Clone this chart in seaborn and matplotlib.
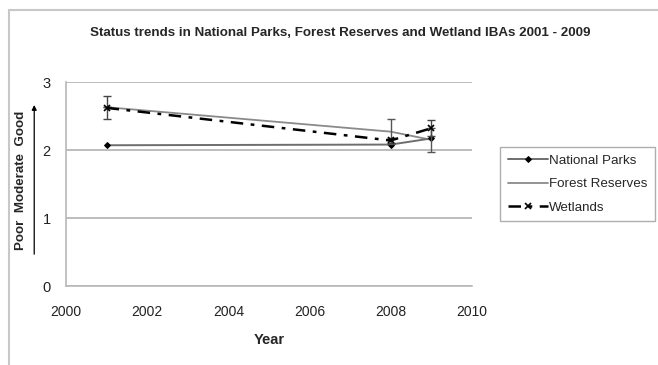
import matplotlib
matplotlib.use("Agg")
import matplotlib.pyplot as plt
import seaborn as sns
import pandas as pd

# Status scores (0-3 scale) per habitat group
years = [2001, 2008, 2009]
national_parks = [2.07, 2.08, 2.17]
forest_reserves = [2.63, 2.27, 2.15]
wetlands = [2.62, 2.14, 2.32]
forest_err = [0.0, 0.18, 0.18]
wetlands_err = [0.17, 0.04, 0.12]

x_ticks = [2000, 2002, 2004, 2006, 2008, 2010]
y_ticks = [0, 1, 2, 3]
title = "Status trends in National Parks, Forest Reserves and Wetland IBAs 2001 - 2009"

sns.set_theme(style="white")
plt.rcParams["font.family"] = ["Liberation Sans", "DejaVu Sans"]

df = pd.DataFrame({
    "Year": years,
    "National Parks": national_parks,
    "Forest Reserves": forest_reserves,
    "Wetlands": wetlands,
})

fig = plt.figure(figsize=(6.58, 3.65), dpi=100)
ax = fig.add_axes([0.1003, 0.2164, 0.6167, 0.5589])

sns.lineplot(data=df, x="Year", y="National Parks", ax=ax, color="#6e6e6e",
             lw=1.4, marker="D", markersize=3, markerfacecolor="black",
             markeredgecolor="black", label="National Parks", zorder=3)
sns.lineplot(data=df, x="Year", y="Forest Reserves", ax=ax, color="#8a8a8a",
             lw=1.3, label="Forest Reserves", zorder=2)
sns.lineplot(data=df, x="Year", y="Wetlands", ax=ax, color="black", lw=1.8,
             linestyle=(0, (5, 3, 1.5, 3)), marker="x", markersize=5,
             markeredgewidth=1.2, markeredgecolor="black",
             markerfacecolor="black", label="Wetlands", zorder=4)

ax.errorbar(years, forest_reserves, yerr=forest_err, fmt="none",
            ecolor="#555555", elinewidth=1, capsize=3, zorder=3)
ax.errorbar(years, wetlands, yerr=wetlands_err, fmt="none",
            ecolor="#444444", elinewidth=1, capsize=3, zorder=3)

ax.set_xlim(2000, 2010)
ax.set_ylim(0, 3)
ax.set_xticks(x_ticks)
ax.set_yticks(y_ticks)
ax.set_xticklabels([str(v) for v in x_ticks], fontsize=10, color="#222222")
ax.set_yticklabels([str(v) for v in y_ticks], fontsize=10.5, color="#222222")
ax.tick_params(axis="x", direction="inout", length=5, color="#b0b0b0", pad=11)
ax.tick_params(axis="y", direction="out", length=7, color="#b0b0b0", pad=4)

ax.grid(axis="y", color="#bdbdbd", lw=1.4)
ax.grid(axis="x", visible=False)
for side in ("top", "right"):
    ax.spines[side].set_visible(False)
for side in ("left", "bottom"):
    ax.spines[side].set_color("#b8b8b8")
    ax.spines[side].set_linewidth(1.2)

ax.set_xlabel("Year", fontsize=10.5, fontweight="bold", labelpad=10)
ax.set_ylabel("")

fig.text(0.517, 0.909, title, ha="center", va="center", fontsize=9.6,
         fontweight="bold")
fig.text(0.032, 0.507, "Poor  Moderate  Good", rotation=90, ha="center",
         va="center", fontsize=9.6, fontweight="bold")
fig.add_artist(matplotlib.patches.FancyArrowPatch(
    (0.052, 0.296), (0.052, 0.72), transform=fig.transFigure,
    arrowstyle="-|>", mutation_scale=7, color="black", lw=0.9))

leg = ax.legend(loc="center left", bbox_to_anchor=(1.07, 0.5), fontsize=9.6,
                frameon=True, fancybox=False, edgecolor="#9a9a9a",
                handlelength=3.0, handletextpad=0.1, borderpad=0.55,
                labelspacing=0.85, borderaxespad=0)
leg.get_frame().set_linewidth(1.0)

# outer chart border (left and top edges)
fig.add_artist(matplotlib.lines.Line2D([0.0137, 0.0137], [0.0, 0.973],
               transform=fig.transFigure, color="#c8c8c8", lw=1.5))
fig.add_artist(matplotlib.lines.Line2D([0.0137, 1.0], [0.973, 0.973],
               transform=fig.transFigure, color="#c8c8c8", lw=1.5))

fig.savefig("out.png", dpi=100)
